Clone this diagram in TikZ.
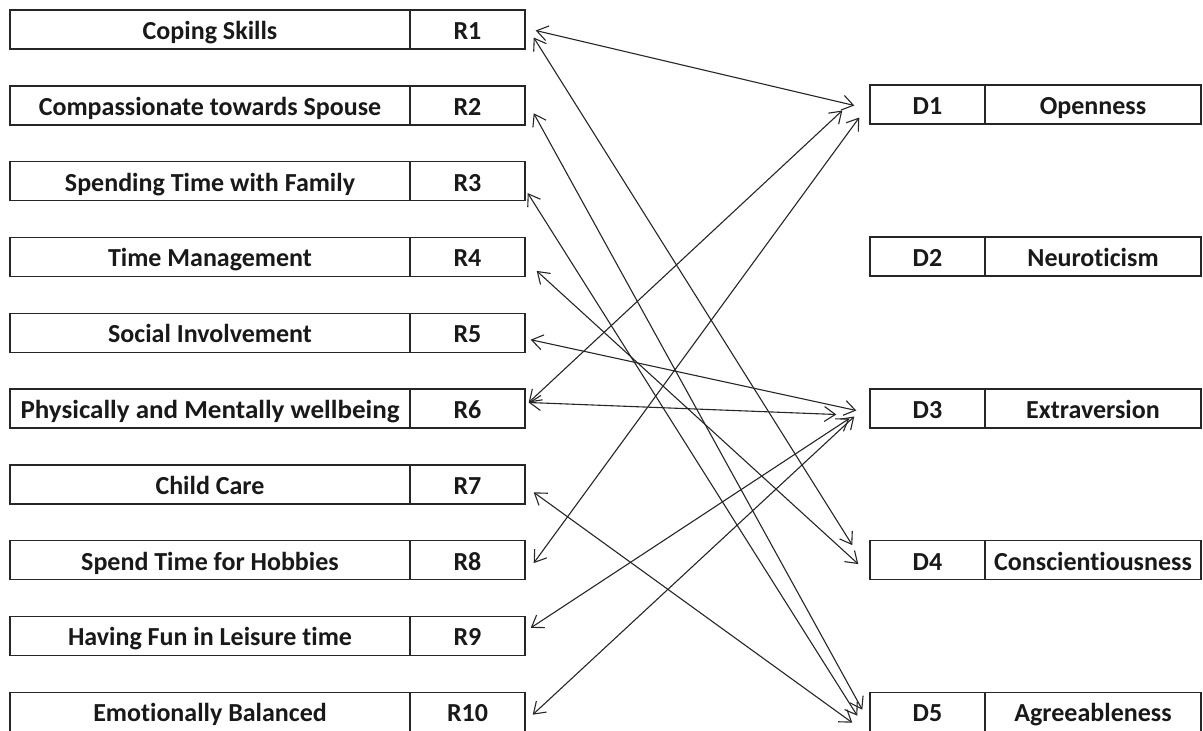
\documentclass[tikz,border=0pt]{standalone}
\usepackage{fontspec}
\setmainfont{Carlito}[Ligatures=NoCommon]
\usetikzlibrary{arrows.meta}
\begin{document}
\begin{tikzpicture}[x=1pt,y=-1pt,
  cell/.style={draw=black!85,line width=1.4pt,minimum height=39pt,inner sep=0pt,text height=22pt,text depth=2pt,font=\bfseries\fontsize{26}{28}\selectfont,text=black!90},
  lcell/.style={cell,minimum width=400pt},
  ncell/.style={cell,minimum width=115pt},
  dcell/.style={cell,minimum width=216pt},
  link/.style={{Straight Barb[length=11pt,width=15pt]}-{Straight Barb[length=11pt,width=15pt]},line width=1.1pt,black!85}]
\useasboundingbox (0,0) rectangle (1203,731);
% left column
\node[lcell] (l1) at (210,29.5) {Coping Skills};
\node[ncell] (r1) at (467.5,29.5) {R1};
\node[lcell] (l2) at (210,105.3) {Compassionate towards Spouse};
\node[ncell] (r2) at (467.5,105.3) {R2};
\node[lcell] (l3) at (210,181.1) {Spending Time with Family};
\node[ncell] (r3) at (467.5,181.1) {R3};
\node[lcell] (l4) at (210,256.9) {Time Management};
\node[ncell] (r4) at (467.5,256.9) {R4};
\node[lcell] (l5) at (210,332.7) {Social Involvement};
\node[ncell] (r5) at (467.5,332.7) {R5};
\node[lcell] (l6) at (210,408.5) {\resizebox{379pt}{\height}{Physically and Mentally wellbeing}};
\node[ncell] (r6) at (467.5,408.5) {R6};
\node[lcell] (l7) at (210,484.3) {Child Care};
\node[ncell] (r7) at (467.5,484.3) {R7};
\node[lcell] (l8) at (210,560.1) {Spend Time for Hobbies};
\node[ncell] (r8) at (467.5,560.1) {R8};
\node[lcell] (l9) at (210,635.9) {Having Fun in Leisure time};
\node[ncell] (r9) at (467.5,635.9) {R9};
\node[lcell] (l10) at (210,711.7) {Emotionally Balanced};
\node[ncell] (r10) at (467.5,711.7) {R10};
% right column
\node[ncell] (d1) at (927.5,104.5) {D1};
\node[dcell] (t1) at (1093,104.5) {Openness};
\node[ncell] (d2) at (927.5,256.5) {D2};
\node[dcell] (t2) at (1093,256.5) {Neuroticism};
\node[ncell] (d3) at (927.5,408.5) {D3};
\node[dcell] (t3) at (1093,408.5) {Extraversion};
\node[ncell] (d4) at (927.5,560.1) {D4};
\node[dcell] (t4) at (1093,560.1) {Conscientiousness};
\node[ncell] (d5) at (927.5,711.7) {D5};
\node[dcell] (t5) at (1093,711.7) {Agreeableness};
% connectors
\draw[link] ([shift={(10,1)}]r1.east) -- ([shift={(-15,1)}]d1.west);
\draw[link] ([shift={(8,8)}]r1.east) -- ([shift={(-17,-15)}]d4.west);
\draw[link] ([shift={(8,8)}]r2.east) -- ([shift={(-7,-2)}]d5.west);
\draw[link] ([shift={(2,12)}]r3.east) -- ([shift={(-12,4)}]d5.west);
\draw[link] ([shift={(11,14)}]r4.east) -- ([shift={(-11,4)}]d4.west);
\draw[link] ([shift={(5,7)}]r5.east) -- ([shift={(-13,2)}]d3.west);
\draw[link] ([shift={(3,-6)}]r6.east) -- ([shift={(-27,6)}]d1.west);
\draw[link] ([shift={(3,-6)}]r6.east) -- ([shift={(-33,6)}]d3.west);
\draw[link] ([shift={(8,8)}]r7.east) -- ([shift={(-17,11)}]d5.west);
\draw[link] ([shift={(8,3)}]r8.east) -- ([shift={(-10,13)}]d1.west);
\draw[link] ([shift={(5,-8)}]r9.east) -- ([shift={(-20,10)}]d3.west);
\draw[link] ([shift={(7,3)}]r10.east) -- ([shift={(-15,8)}]d3.west);
\end{tikzpicture}
\end{document}
